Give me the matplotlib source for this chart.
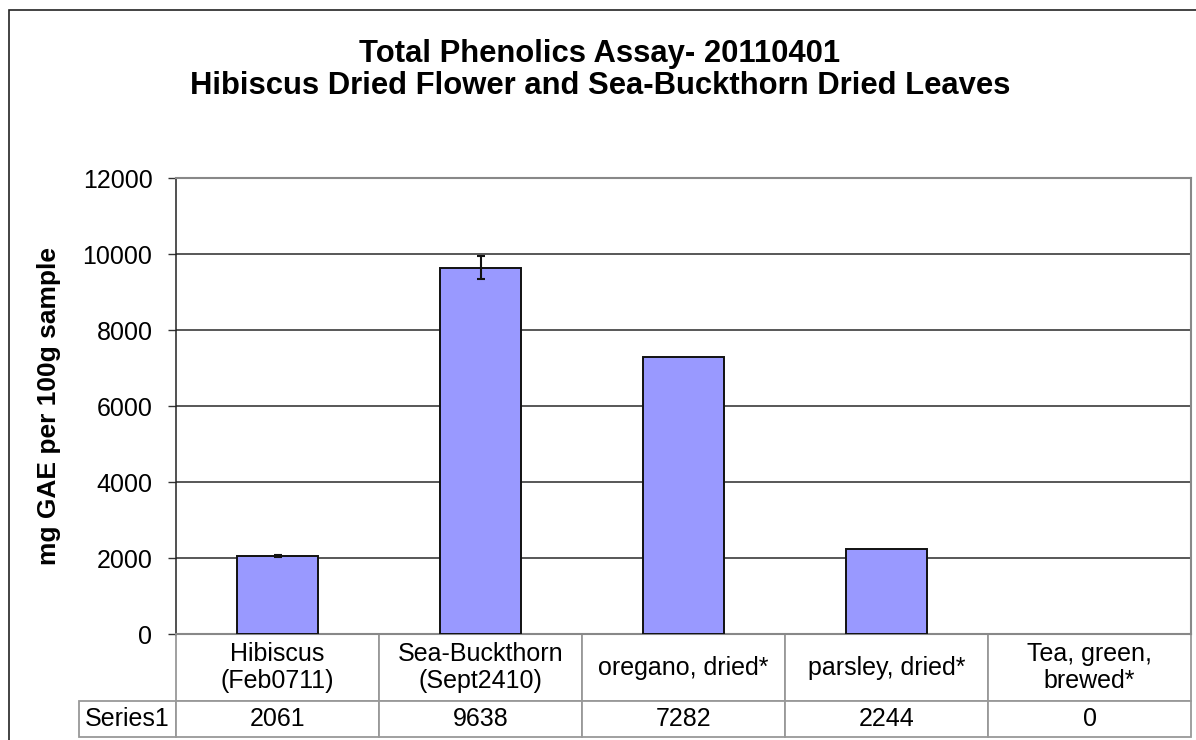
import numpy as np
import matplotlib
matplotlib.use("Agg")
import matplotlib.pyplot as plt
from matplotlib.patches import Rectangle

plt.rcParams['font.family'] = ['Liberation Sans', 'DejaVu Sans']

# data
categories = ["Hibiscus\n(Feb0711)", "Sea-Buckthorn\n(Sept2410)", "oregano, dried*",
              "parsley, dried*", "Tea, green,\nbrewed*"]
values = [2061, 9638, 7282, 2244, 0]
errors = [25, 300, None, None, None]
series_name = "Series1"
y_ticks = [0, 2000, 4000, 6000, 8000, 10000, 12000]
title = "Total Phenolics Assay- 20110401\nHibiscus Dried Flower and Sea-Buckthorn Dried Leaves"
y_label = "mg GAE per 100g sample"

W, H = 1196, 740
fig = plt.figure(figsize=(W / 100, H / 100), dpi=100)
fig.patch.set_facecolor("white")

# outer chart border (right/bottom edges fall outside the picture)
fig.patches.append(Rectangle((9 / W, -0.05), 1.2, 1 - 10 / H + 0.05, transform=fig.transFigure,
                             fill=False, edgecolor="#222222", linewidth=1.2, zorder=0))

ax_w = 1191 - 176
ax_h = 634 - 178
ax = fig.add_axes([176 / W, 1 - 634 / H, ax_w / W, ax_h / H])

x = np.arange(len(values))
bars = ax.bar(x, values, width=0.4, color="#9999FF", edgecolor="#111111", linewidth=1.4, zorder=3)
for b, v in zip(bars, values):
    if v == 0:
        b.set_visible(False)  # excel draws nothing for an empty bar

ex = [i for i, e in enumerate(errors) if e is not None]
ax.errorbar(x[ex], [values[i] for i in ex], yerr=[errors[i] for i in ex], fmt="none",
            ecolor="#111111", elinewidth=1.5, capsize=3, capthick=1.5, zorder=4)

ax.set_xlim(-0.5, len(values) - 0.5)
ax.set_ylim(0, 12000)
ax.set_yticks(y_ticks)
ax.set_xticks([])
ax.yaxis.grid(True, color="#2a2a2a", linewidth=1.1, zorder=0)
ax.tick_params(axis="y", direction="out", length=6, width=1, pad=11, labelsize=18, color="#333333")

for s in ["top", "right", "bottom"]:
    ax.spines[s].set_color("#888888")
    ax.spines[s].set_linewidth(1.5)
ax.spines["left"].set_color("#222222")
ax.spines["left"].set_linewidth(1.1)

# data table under the axis; first column holds the series name and
# hangs out to the left of the axes
lab_w = 97
tbl_h = (737 - 634) / ax_h
tbl = ax.table(cellText=[[series_name] + [str(v) for v in values]],
               colLabels=[""] + categories, cellLoc="center", colLoc="center",
               bbox=[-lab_w / ax_w, -tbl_h, 1 + lab_w / ax_w, tbl_h])
tbl.auto_set_font_size(False)
tbl.set_fontsize(18)
for (r, c), cell in tbl.get_celld().items():
    cell.set_edgecolor("#999999")
    cell.set_linewidth(1.3)
    cell.set_height(67 if r == 0 else 36)
    cell.set_width(lab_w if c == 0 else 203)
    cell.get_text().set_fontsize(18)
tbl[0, 0].visible_edges = "open"
tbl[0, 0].set_facecolor("none")

fig.text(600 / W, 1 - 70 / H, title, ha="center", va="center", fontsize=22.3,
         fontweight="bold", linespacing=1.1)
fig.text(49 / W, 1 - 406 / H, y_label, ha="center", va="center", rotation=90,
         fontsize=19, fontweight="bold")

fig.savefig("out.png", dpi=100)
